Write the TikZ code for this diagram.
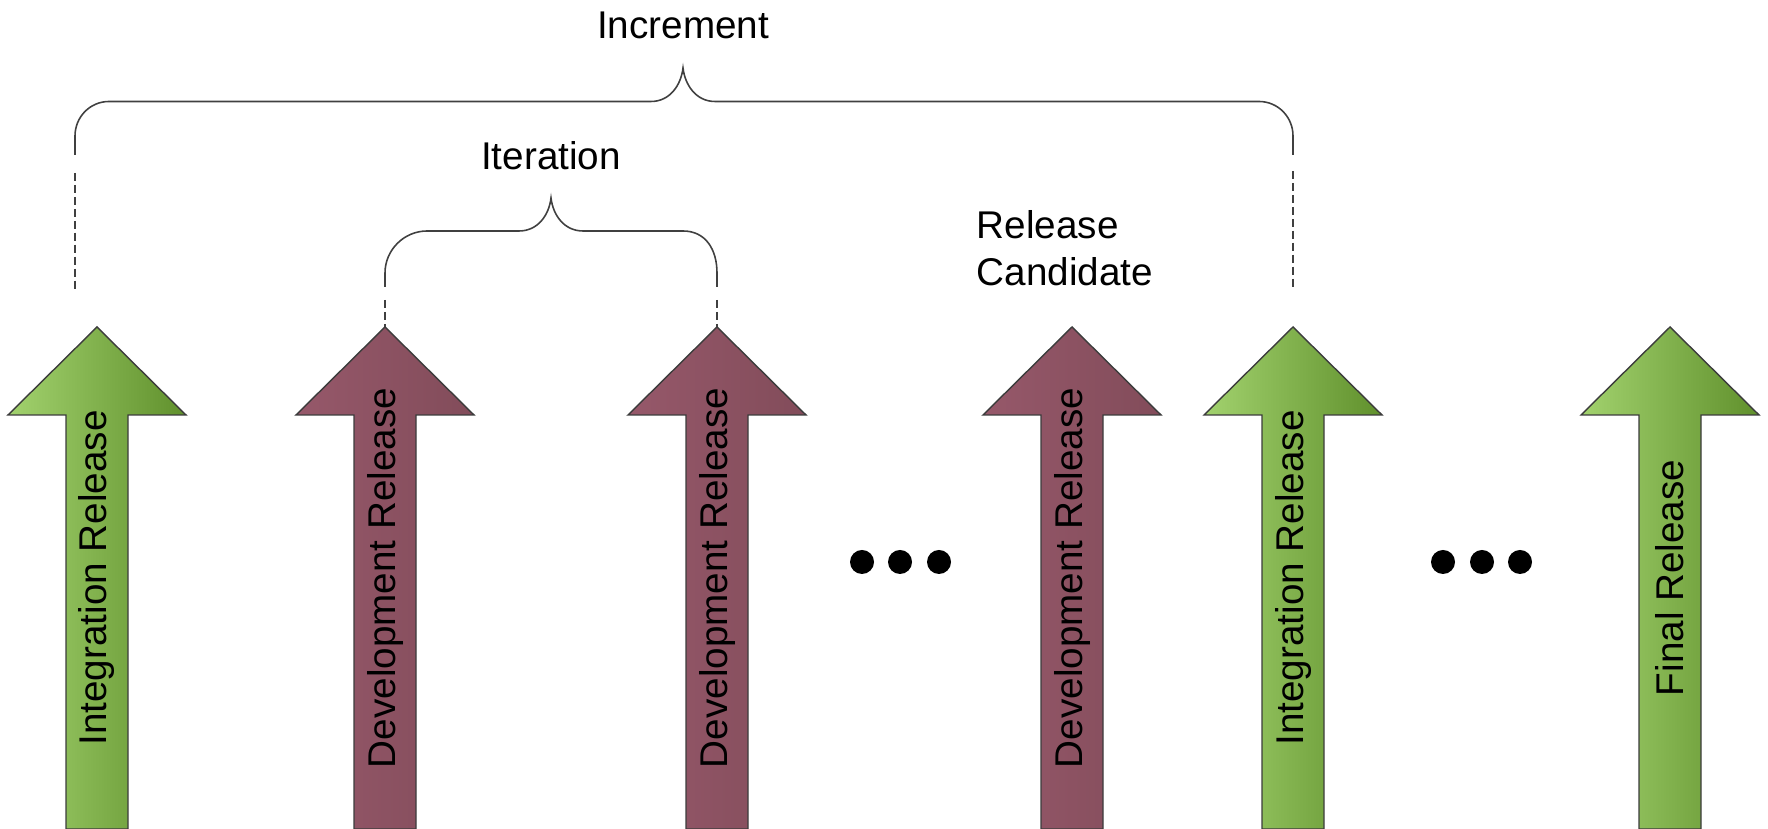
\documentclass[tikz,border=0pt]{standalone}
\usepackage{fontspec}
\setmainfont{Liberation Sans}
\definecolor{grnL}{RGB}{162,210,110}
\definecolor{grnD}{RGB}{96,144,44}
\definecolor{purL}{RGB}{150,88,106}
\definecolor{purD}{RGB}{130,76,90}
\definecolor{edge}{RGB}{60,60,60}
\tikzset{
  every node/.style={font=\fontsize{11}{13.4}\selectfont},
  brace/.style={draw=black!75,line width=0.45pt},
  guide/.style={draw=black!75,line width=0.45pt,dash pattern=on 2.4pt off 1pt},
  rlabel/.style={rotate=90,inner sep=0pt}
}
\begin{document}
\begin{tikzpicture}[x=0.1mm,y=-0.1mm]
\useasboundingbox (0,0) rectangle (1768,829);
% release arrows
\foreach \cx/\cl/\cr/\lbl/\n in {97/grnL/grnD/Integration Release/a,385/purL/purD/Development Release/b,717/purL/purD/Development Release/c,1072/purL/purD/Development Release/d,1293/grnL/grnD/Integration Release/e,1670/grnL/grnD/Final Release/f}{
\path[draw=edge,line width=0.4pt,left color=\cl,right color=\cr] (\cx,327) -- (\cx+89,415) -- (\cx+31,415) -- (\cx+31,829) -- (\cx-31,829) -- (\cx-31,415) -- (\cx-89,415) -- cycle;
\coordinate (tip\n) at (\cx,327);
\node[rlabel] (lbl\n) at (\cx,578) {\lbl};
}
% dots
\foreach \x in {862,900,939,1443,1482,1520}{
\fill (\x,562) circle (12);
}
% increment
\draw[brace] (75,155) -- (75,136) .. controls (75,117) and (90,101.5) .. (109,101.5) -- (651,101.5) .. controls (670,101.5) and (681,85) .. (683,68) .. controls (685,85) and (696,101.5) .. (715,101.5) -- (1259,101.5) .. controls (1278,101.5) and (1293,117) .. (1293,136) -- (1293,155);
\node[anchor=base] (incr) at (683,39) {Increment};
\coordinate (incA) at (75,173);
\coordinate (incAend) at (75,290);
\coordinate (incE) at (1293,171);
\coordinate (incEend) at (1293,290);
\draw[guide] (incA) -- (incAend);
\draw[guide] (incE) -- (incEend);
% iteration
\draw[brace] (385,287) -- (385,273) .. controls (385,250) and (404,231) .. (427,231) -- (519,231) .. controls (538,231) and (549,215) .. (551,198) .. controls (553,215) and (564,231) .. (583,231) -- (683,231) .. controls (706,231) and (717,250) .. (717,273) -- (717,287);
\node[anchor=base] (iter) at (551,170) {Iteration};
\coordinate (itB) at (385,300);
\coordinate (itC) at (717,300);
\draw[guide] (itB) -- (tipb);
\draw[guide] (itC) -- (tipc);
% release candidate
\node[anchor=north west,align=left,inner sep=0pt] (rc) at (976,210) {Release\\Candidate};
\end{tikzpicture}
\end{document}
